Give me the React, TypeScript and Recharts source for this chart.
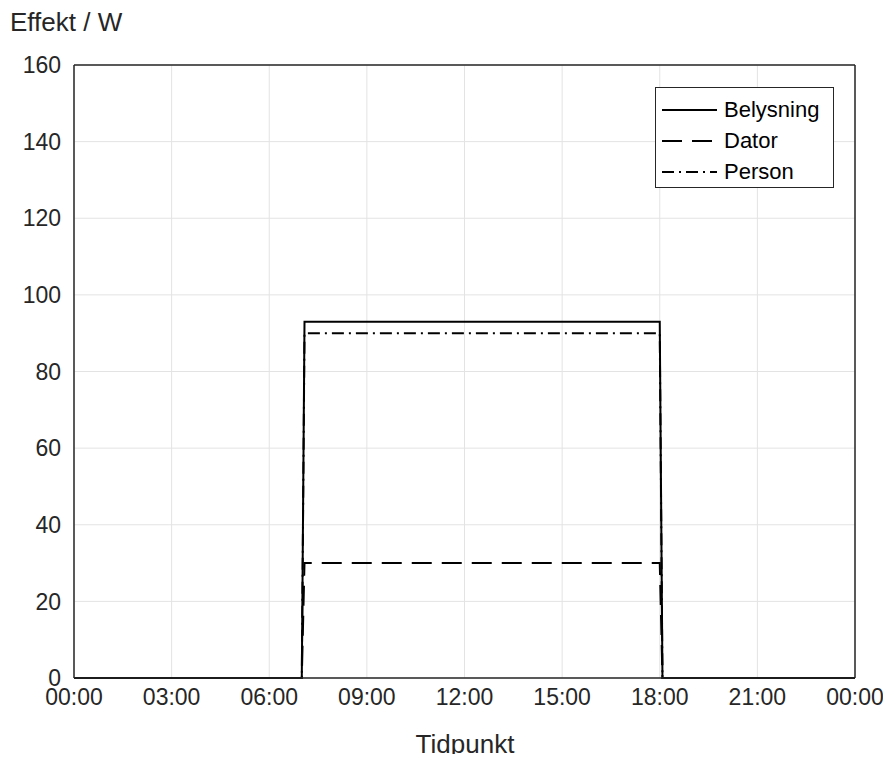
import { LineChart, Line, XAxis, YAxis, CartesianGrid, ReferenceLine } from "recharts";

// time in hours (0-24), step changes at 07:00 and 18:00
const hours = [0, 7, 7.0833, 18, 18.0833, 24];
const belysning = [0, 0, 93, 93, 0, 0];
const dator = [0, 0, 30, 30, 0, 0];
const person = [0, 0, 90, 90, 0, 0];

const xTicks = [0, 3, 6, 9, 12, 15, 18, 21, 24];
const xTickLabels = ["00:00", "03:00", "06:00", "09:00", "12:00", "15:00", "18:00", "21:00", "00:00"];
const yTicks = [0, 20, 40, 60, 80, 100, 120, 140, 160];

const seriesNames = ["Belysning", "Dator", "Person"];
const seriesDash = ["", "20 10", "12 5 2 5"];

const data = hours.map((h, i) => ({
  t: h,
  Belysning: belysning[i],
  Dator: dator[i],
  Person: person[i],
}));

const FONT = "'Liberation Sans', Arial, sans-serif";
const TXT = "#262626";

function LegendBox() {
  return (
    <div
      style={{
        position: "absolute",
        left: 647,
        top: 79,
        border: "1px solid #262626",
        background: "#fff",
        width: 179,
        height: 101,
        boxSizing: "border-box",
        paddingTop: 6,
        fontFamily: FONT,
        fontSize: 22,
        color: "#000",
      }}
    >
      {seriesNames.map((name, i) => (
        <div key={name} style={{ display: "flex", alignItems: "center", height: 31 }}>
          <svg width={62} height={10} style={{ marginLeft: 6 }}>
            <line x1={0} y1={5} x2={55} y2={5} stroke="#000" strokeWidth={2} strokeDasharray={seriesDash[i] || undefined} />
          </svg>
          <span>{name}</span>
        </div>
      ))}
    </div>
  );
}

export default function App() {
  return (
    <div style={{ position: "relative", width: 883, height: 746, background: "#fff" }}>
      <LineChart
        width={883}
        height={746}
        data={data}
        margin={{ top: 57, right: 36, left: 0, bottom: 36 }}
        style={{ overflow: "visible" }}
      >
        <CartesianGrid stroke="#e3e3e3" strokeWidth={1} />
        <XAxis
          dataKey="t"
          type="number"
          domain={[0, 24]}
          ticks={xTicks}
          tickFormatter={(v: number) => xTickLabels[xTicks.indexOf(v)]}
          tickLine={false}
          tickMargin={5}
          height={40}
          axisLine={{ stroke: "#262626", strokeWidth: 1.5 }}
          tick={{ fill: TXT, fontSize: 23, fontFamily: FONT }}
        />
        <YAxis
          type="number"
          domain={[0, 160]}
          ticks={yTicks}
          tickLine={false}
          tickMargin={7}
          width={66}
          axisLine={{ stroke: "#262626", strokeWidth: 1.5 }}
          tick={{ fill: TXT, fontSize: 23, fontFamily: FONT }}
        />
        <ReferenceLine y={160} stroke="#262626" strokeWidth={1.5} />
        <ReferenceLine x={24} stroke="#262626" strokeWidth={1.5} />
        {seriesNames.map((name, i) => (
          <Line
            key={name}
            type="linear"
            dataKey={name}
            stroke="#000"
            strokeWidth={2}
            strokeDasharray={seriesDash[i] || undefined}
            dot={false}
            activeDot={false}
            isAnimationActive={false}
          />
        ))}
      </LineChart>
      <LegendBox />
      <div
        style={{
          position: "absolute",
          left: 2,
          top: -1,
          fontFamily: FONT,
          fontSize: 26,
          color: TXT,
        }}
      >
        Effekt / W
      </div>
      <div
        style={{
          position: "absolute",
          left: 357,
          width: 200,
          top: 721,
          textAlign: "center",
          fontFamily: FONT,
          fontSize: 26,
          lineHeight: "30px",
          color: TXT,
        }}
      >
        Tidpunkt
      </div>
    </div>
  );
}
